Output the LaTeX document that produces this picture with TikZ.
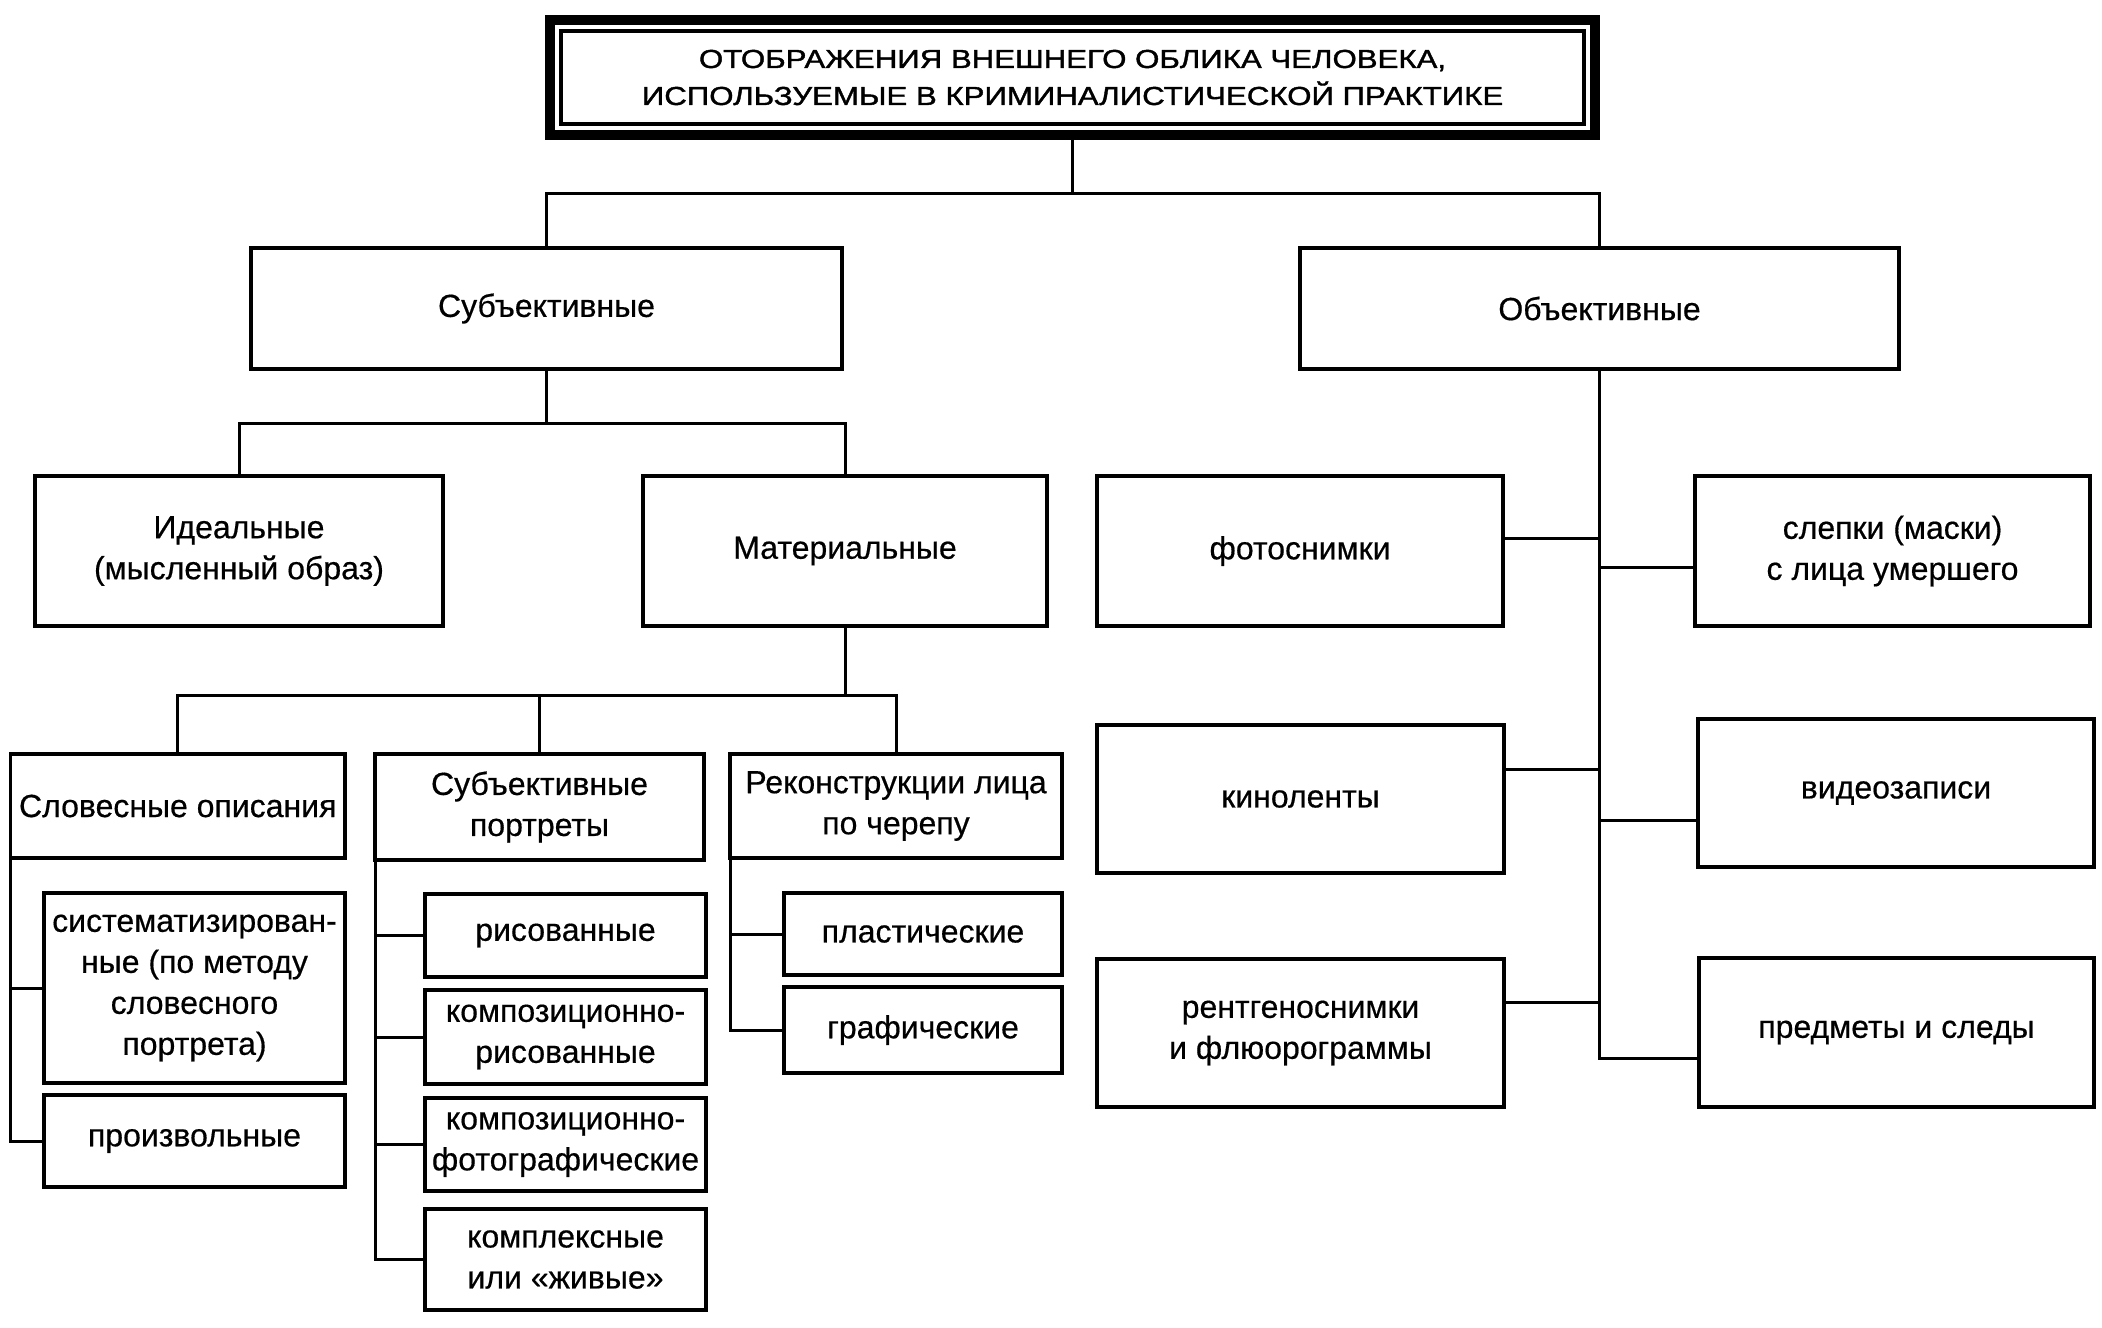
\documentclass[tikz,border=0pt]{standalone}
\usepackage{fontspec}
\setmainfont{Liberation Sans}[FakeBold=0.5]
\newfontfamily\titlefont[FakeStretch=1.2,FakeBold=1.5]{Liberation Sans}
\newcommand{\boxat}[6]{\node[box, minimum width={(#4-#2)*0.5pt}, minimum height={(#5-#3)*0.5pt}] (#1) at ({(#2+#4)/2},{(#3+#5)/2}) {#6};}
\begin{document}
\begin{tikzpicture}[x=0.5pt,y=-0.5pt,
  box/.style={draw, line width=1.6pt, rectangle, inner sep=2pt, outer sep=0pt, align=center, font=\fontsize{16}{20.5}\selectfont},
  conn/.style={line width=1.5pt}]
\useasboundingbox[fill=white] (0,0) rectangle (2102,1327);
% title
\node[draw, line width=5pt, rectangle, outer sep=0pt, inner sep=0pt,
  minimum width={1045*0.5pt}, minimum height={115*0.5pt}, align=center,
  font={\titlefont\fontsize{13}{18.5}\selectfont}] (title) at (1072.5,77.5)
  {ОТОБРАЖЕНИЯ ВНЕШНЕГО ОБЛИКА ЧЕЛОВЕКА,\\ИСПОЛЬЗУЕМЫЕ В КРИМИНАЛИСТИЧЕСКОЙ ПРАКТИКЕ};
\draw[line width=2pt] ([shift={(11,11)}]title.north west) rectangle ([shift={(-11,-11)}]title.south east);
% level 1
\boxat{subj}{251}{248}{842}{369}{Субъективные}
\boxat{obj}{1300}{248}{1899}{369}{Объективные}
% level 2 left
\boxat{ideal}{35}{476}{443}{626}{Идеальные\\(мысленный образ)}
\boxat{mat}{643}{476}{1047}{626}{Материальные}
% level 3
\boxat{slov}{10.5}{754}{345}{858}{Словесные описания}
\boxat{portr}{375}{754}{704}{860}{Субъективные\\портреты}
\boxat{rekon}{730}{754}{1062}{858}{Реконструкции лица\\по черепу}
% level 4
\boxat{sist}{44}{893}{345}{1083}{систематизирован-\\ные (по методу\\словесного\\портрета)}
\boxat{proizv}{44}{1095}{345}{1187}{произвольные}
\boxat{ris}{425}{894}{706}{977}{рисованные}
\boxat{kompr}{425}{990}{706}{1084}{композиционно-\\рисованные}
\boxat{kompf}{425}{1098}{706}{1191}{композиционно-\\фотографические}
\boxat{kompl}{425}{1209}{706}{1310}{комплексные\\или «живые»}
\boxat{plast}{784}{893}{1062}{975}{пластические}
\boxat{graf}{784}{987}{1062}{1073}{графические}
% right side
\boxat{foto}{1097}{476}{1503}{626}{фотоснимки}
\boxat{slep}{1695}{476}{2090}{626}{слепки (маски)\\с лица умершего}
\boxat{kino}{1097}{725}{1504}{873}{киноленты}
\boxat{video}{1698}{719}{2094}{867}{видеозаписи}
\boxat{rentg}{1097}{959}{1504}{1107}{рентгеноснимки\\и флюорограммы}
\boxat{predm}{1699}{958}{2094}{1107}{предметы и следы}
% connectors
\coordinate (j0) at (1072.5,193);
\draw[conn] (title.south) -- (j0);
\draw[conn] (subj.north) |- (j0) -| (obj.north);
\coordinate (j1) at (546.5,423);
\draw[conn] (subj.south) -- (j1);
\draw[conn] (ideal.north) |- (j1) -| (mat.north);
\coordinate (j2) at (845,695);
\draw[conn] (mat.south) -- (j2);
\draw[conn] (slov.north) |- (j2) -| (rekon.north);
\draw[conn] (portr.north) -- (portr.north |- j2);
% left subtrees
\draw[conn] (slov.south west) |- (proizv.west);
\draw[conn] (sist.west) -- (sist.west -| slov.west);
\draw[conn] (portr.south west) |- (kompl.west);
\draw[conn] (ris.west) -- (ris.west -| portr.west);
\draw[conn] (kompr.west) -- (kompr.west -| portr.west);
\draw[conn] (kompf.west) -- (kompf.west -| portr.west);
\draw[conn] (rekon.south west) |- (graf.west);
\draw[conn] (plast.west) -- (plast.west -| rekon.west);
% right trunk
\coordinate (cpr) at ([yshift=-12.75pt]predm.west);
\coordinate (cfo) at ([yshift=6.5pt]foto.east);
\coordinate (csl) at ([yshift=-8pt]slep.west);
\coordinate (cki) at ([yshift=15pt]kino.east);
\coordinate (cvi) at ([yshift=-13.5pt]video.west);
\coordinate (cre) at ([yshift=15.5pt]rentg.east);
\draw[conn] (obj.south) |- (cpr);
\draw[conn] (cfo) -- (cfo -| obj.south);
\draw[conn] (csl) -- (csl -| obj.south);
\draw[conn] (cki) -- (cki -| obj.south);
\draw[conn] (cvi) -- (cvi -| obj.south);
\draw[conn] (cre) -- (cre -| obj.south);
\end{tikzpicture}
\end{document}
